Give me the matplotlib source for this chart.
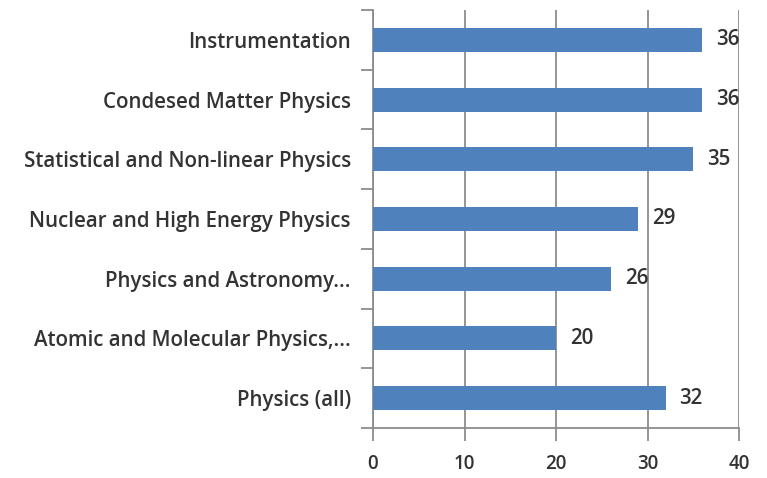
import matplotlib
matplotlib.use("Agg")
import matplotlib.pyplot as plt
from matplotlib.ticker import FixedLocator

categories = [
    "Instrumentation",
    "Condesed Matter Physics",
    "Statistical and Non-linear Physics",
    "Nuclear and High Energy Physics",
    "Physics and Astronomy...",
    "Atomic and Molecular Physics,...",
    "Physics (all)",
]
values = [36, 36, 35, 29, 26, 20, 32]
x_ticks = [0, 10, 20, 30, 40]

bar_color = "#4f81bd"
text_color = "#333333"
grid_color = "#8c8c8c"

plt.rcParams["font.family"] = ["Open Sans", "DejaVu Sans"]
plt.rcParams["font.weight"] = "semibold"

W, H = 767, 478
fig = plt.figure(figsize=(W / 100, H / 100), dpi=100)
ax = fig.add_axes([373 / W, 1 - 428 / H, (739 - 373) / W, (428 - 10) / H])

n = len(categories)
ypos = list(range(n))
ax.barh(ypos, values, height=0.4, color=bar_color, zorder=3)

ax.set_xlim(0, 40)
ax.set_ylim(n - 0.5, -0.5)

ax.set_xticks(x_ticks)
ax.set_xticklabels([str(t) for t in x_ticks])
ax.set_yticks(ypos)
ax.set_yticklabels(categories)
ax.yaxis.set_minor_locator(FixedLocator([i - 0.5 for i in range(n + 1)]))

fs = 14.8
ax.tick_params(axis="y", which="major", length=0, pad=16, labelsize=fs,
               labelcolor=text_color)
ax.tick_params(axis="y", which="minor", length=9, width=1.3, color=grid_color,
               direction="out")
ax.tick_params(axis="x", which="major", length=9, width=1.3, color=grid_color,
               pad=10, labelsize=13.5, labelcolor=text_color, direction="out")

ax.grid(axis="x", color=grid_color, linewidth=1.3, zorder=0)
for side in ("top", "right"):
    ax.spines[side].set_visible(False)
for side in ("left", "bottom"):
    ax.spines[side].set_color(grid_color)
    ax.spines[side].set_linewidth(1.3)

for y, v in zip(ypos, values):
    ax.text(v + 1.5, y, str(v), va="center", ha="left", fontsize=fs,
            color=text_color, zorder=4)

fig.savefig("out.png", dpi=100)
